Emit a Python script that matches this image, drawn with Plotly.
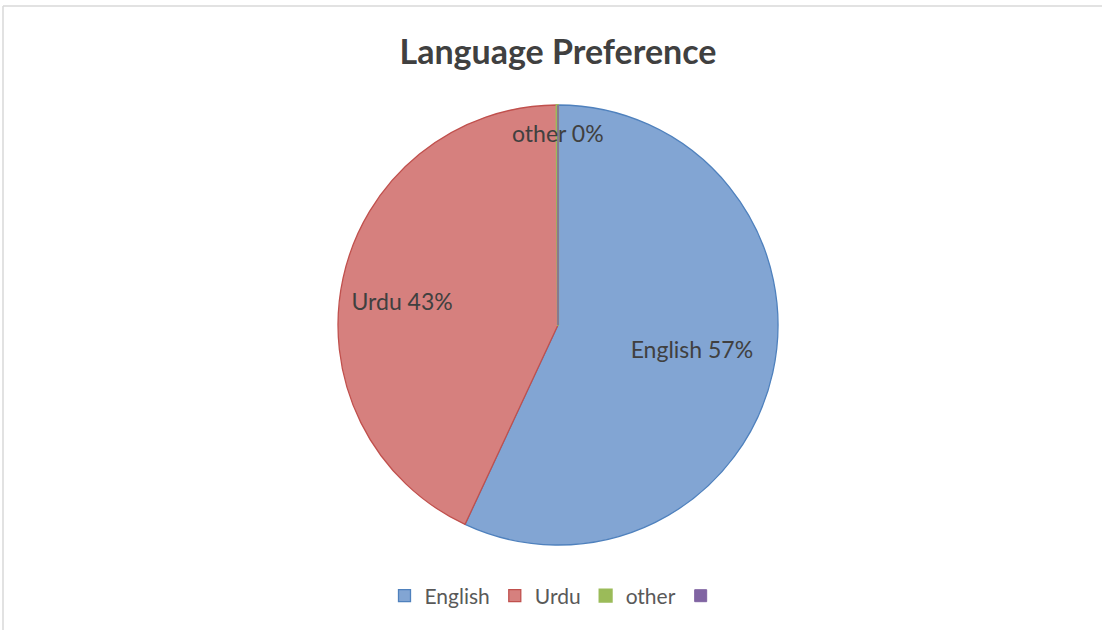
import plotly.graph_objects as go

labels = ["English", "Urdu", "other", " "]
values = [57, 43, 0.1, 0]
fill_colors = ["#82A5D3", "#D6807E", "#9BBB59", "#8064A2"]
line_colors = ["#4F81BD", "#C0504D", "#9BBB59", "#8064A2"]
title_text = "Language Preference"

FONT = "Lato, Calibri, Carlito, sans-serif"
NB = "&nbsp;"

templates = [
    NB * 9 + "%{label} %{percent:.0%}",
    "%{label} %{percent:.0%}" + NB * 16,
    "",
    "",
]

total = sum(values)
other_text = f"{labels[2]} {round(100 * values[2] / total)}%"

fig = go.Figure(go.Pie(
    labels=labels,
    values=values,
    sort=False,
    direction="clockwise",
    rotation=0,
    marker=dict(colors=fill_colors, line=dict(color=line_colors, width=[1.3, 1.3, 2.2, 1])),
    texttemplate=templates,
    textposition=["inside", "inside", "none", "none"],
    insidetextorientation="horizontal",
    textfont=dict(family=FONT, size=23, color="#404040"),
    hoverinfo="label+percent",
))

fig.update_layout(
    width=1102, height=630,
    margin=dict(l=20, r=6, t=105, b=85),
    paper_bgcolor="white", plot_bgcolor="white",
    title=dict(text="<b>" + title_text + "</b>", x=0.5, xref="paper", y=0.918, yanchor="middle",
               font=dict(family=FONT, size=34, color="#404040")),
    uniformtext=dict(mode="show", minsize=23),
    legend=dict(orientation="h", x=0.5, xanchor="center", y=-0.116, yanchor="middle",
                font=dict(family=FONT, size=21, color="#595959"), itemwidth=30),
    showlegend=True,
    annotations=[
        dict(text=other_text, x=0.5, y=0.936, xref="paper", yref="paper",
             xanchor="center", yanchor="middle", showarrow=False,
             font=dict(family=FONT, size=23, color="#404040")),
    ],
    shapes=[
        dict(type="line", xref="paper", yref="paper", x0=-0.0158, x1=1.01, y0=1.225, y1=1.225,
             line=dict(color="#D9D9D9", width=1.5)),
        dict(type="line", xref="paper", yref="paper", x0=-0.0158, x1=-0.0158, y0=1.225, y1=-0.2,
             line=dict(color="#D9D9D9", width=1.5)),
    ],
)

fig.write_html("out.html", config={"displayModeBar": False},
               post_script="document.body.style.margin='0';")
